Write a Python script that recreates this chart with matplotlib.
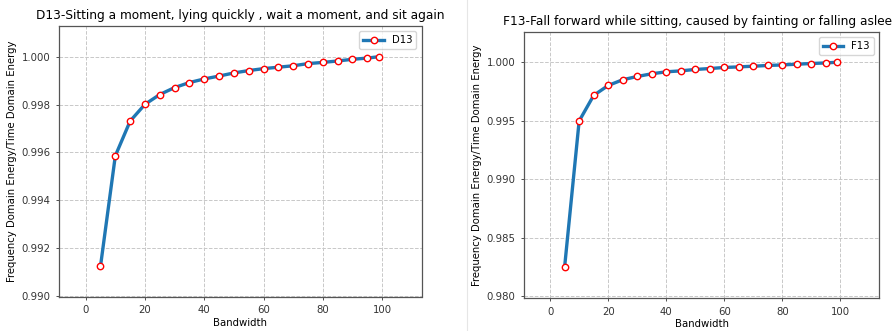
import numpy as np
import matplotlib.pyplot as plt
from matplotlib.lines import Line2D

bandwidth = [5, 10, 15, 20, 25, 30, 35, 40, 45, 50, 55, 60, 65, 70, 75, 80, 85, 90, 95, 99]

d13 = [0.99125, 0.99586, 0.99731, 0.99801, 0.99842, 0.99871, 0.99892, 0.99907,
       0.99919, 0.99932, 0.99942, 0.99950, 0.99956, 0.99962, 0.99971, 0.99976,
       0.99982, 0.99989, 0.99994, 1.00000]

f13 = [0.98250, 0.99497, 0.99716, 0.99801, 0.99850, 0.99878, 0.99901, 0.99918,
       0.99926, 0.99938, 0.99946, 0.99955, 0.99960, 0.99966, 0.99972, 0.99977,
       0.99983, 0.99989, 0.99994, 1.00000]

titles = ["D13-Sitting a moment, lying quickly , wait a moment, and sit again",
          "F13-Fall forward while sitting, caused by fainting or falling asleep"]
labels = ["D13", "F13"]

W, H = 893, 331
fig = plt.figure(figsize=(W / 100, H / 100), dpi=100)

# axes boxes in pixels: left, top, right, bottom
boxes = [(59, 26, 421.5, 296.7), (524, 32.3, 879, 298.3)]
ylims = [(0.98998, 1.00128), (0.9798, 1.00256)]
yticks = [np.arange(0.990, 1.0001, 0.002), np.arange(0.980, 1.0001, 0.005)]

for i, (ys, box) in enumerate(zip([d13, f13], boxes)):
    l, t, r, b = box
    ax = fig.add_axes([l / W, 1 - b / H, (r - l) / W, (b - t) / H])
    ax.plot(bandwidth, ys, color='#1f77b4', lw=2.4, marker='o', ms=4.6,
            mfc='white', mec='red', mew=1.0, label=labels[i])
    ax.set_xlim(-9, 113.3)
    ax.set_ylim(*ylims[i])
    ax.set_xticks([0, 20, 40, 60, 80, 100])
    ax.set_yticks(yticks[i])
    ax.yaxis.set_major_formatter(plt.FormatStrFormatter('%.3f'))
    ax.grid(True, ls='--', color='#c8c8c8', lw=0.7)
    ax.tick_params(labelsize=7.3, colors='#333333', length=2.5, width=0.6)
    for s in ax.spines.values():
        s.set_color('#555555')
        s.set_linewidth(0.9)
    ax.set_xlabel("Bandwidth", fontsize=7.3, labelpad=2)
    ax.set_ylabel("Frequency Domain Energy/Time Domain Energy", fontsize=7.3, labelpad=3)
    ax.set_title(titles[i], fontsize=8.7, pad=5)
    ax.legend(loc='upper right', fontsize=7.3, handlelength=2.0, borderpad=0.4)

# thin border of the second image
fig.add_artist(Line2D([467 / W, 467 / W], [0, 1], color='#e6e6e6', lw=0.8))

fig.savefig("out.png", dpi=100)
